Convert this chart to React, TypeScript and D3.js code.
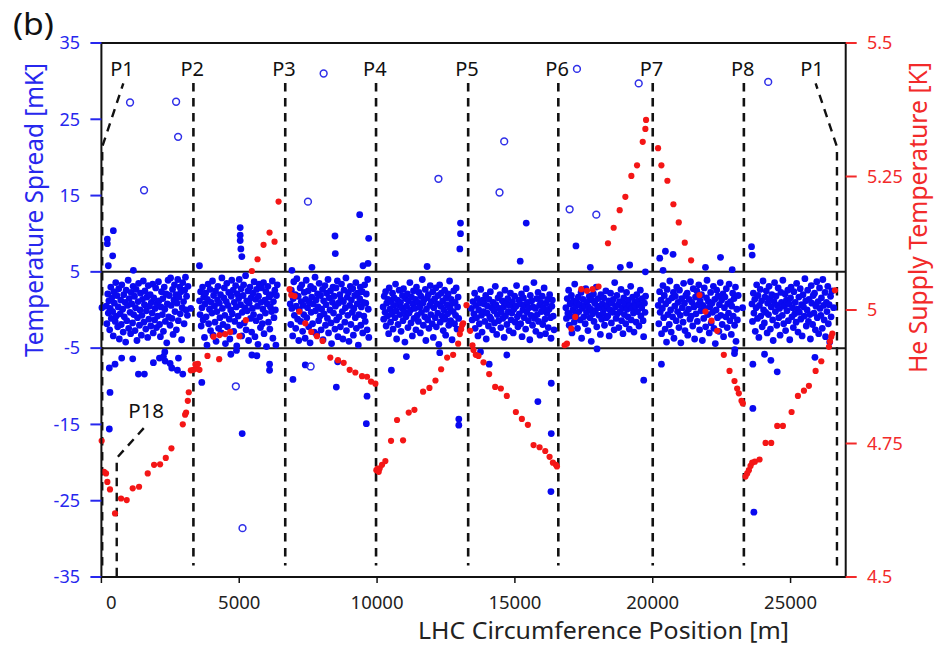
import React from "react";
import * as d3 from "d3";

type P = [number, number];

// ---- Data (x in metres, y in mK) ----
const oct1: P[] = [[20,0.3],[180,0.5],[200,-1.8],[230,2.1],[250,-0.4],[270,1.2],[300,-2.6],[320,0.2],[340,3.0],[360,-1.1],[380,1.6],[410,-0.2],[430,-3.4],[450,2.4],[470,0.9],[500,-1.5],[520,3.6],[540,-0.8],[560,1.9],[590,-2.2],[610,0.4],[630,2.8],[650,-3.8],[680,-0.5],[700,1.3],[720,-1.9],[740,3.3],[770,0.1],[790,-2.9],[810,2.0],[830,-0.9],[860,1.0],[880,-4.2],[900,2.6],[920,-1.4],[950,0.6],[970,3.9],[990,-2.4],[1010,1.5],[1040,-0.3],[1060,-3.1],[1080,2.3],[1100,0.8],[1130,-1.7],[1150,3.1],[1170,-0.6],[1200,1.8],[1220,-2.7],[1240,0.3],[1260,2.7],[1290,-4.0],[1310,-1.0],[1330,1.1],[1350,3.5],[1380,-2.0],[1400,0.0],[1420,2.2],[1450,-3.3],[1470,-0.7],[1490,1.4],[1520,3.8],[1540,-1.6],[1560,0.7],[1580,2.5],[1610,-2.5],[1630,-0.1],[1650,1.7],[1680,-3.6],[1700,3.2],[1720,-1.2],[1740,0.5],[1770,2.0],[1790,-2.1],[1810,1.0],[1840,-0.4],[1860,3.4],[1880,-3.0],[1900,1.6],[1930,-1.3],[1950,0.2],[1970,2.9],[2000,-2.3],[2020,0.9],[2040,-0.8],[2070,3.7],[2090,1.2],[2110,-1.9],[2140,-3.5],[2160,0.4],[2180,2.4],[2210,-0.6],[2230,1.5],[2250,-2.8],[2280,3.0],[2300,0.1],[2320,-1.5],[2350,2.1],[2370,-4.3],[2390,0.8],[2420,3.9],[2440,-0.9],[2460,1.9],[2490,-2.0],[2510,4.2],[2530,0.6],[2560,-1.1],[2580,2.7],[2600,-3.2],[2630,1.3],[2650,3.3],[2670,-0.2],[2700,2.0],[2720,-2.6],[2740,0.9],[2770,4.0],[2790,-1.4],[2810,1.7],[2840,3.0],[2860,-0.5],[2880,2.4],[2910,-3.9],[2930,0.3],[2950,3.6],[2980,1.1],[3000,-1.8],[3020,2.6],[3050,4.3],[3070,0.0],[3090,1.8],[3120,-0.7],[3140,3.1],[3240,0.2]];
const oct2: P[] = [[3560,1.2],[3580,-0.6],[3600,2.4],[3620,-2.1],[3650,0.3],[3670,3.0],[3690,-1.3],[3710,1.7],[3740,-3.6],[3760,0.8],[3780,2.2],[3800,-0.9],[3830,-4.6],[3850,1.4],[3870,3.4],[3890,-1.8],[3920,0.1],[3940,2.7],[3960,-2.7],[3980,1.0],[4010,-0.4],[4030,3.8],[4050,-3.3],[4070,1.9],[4100,0.5],[4120,-1.6],[4140,2.5],[4160,-4.1],[4190,-0.2],[4210,1.3],[4230,3.1],[4250,-2.4],[4280,0.9],[4300,-1.0],[4320,2.0],[4350,-3.0],[4370,4.2],[4390,0.2],[4410,-1.9],[4440,1.6],[4460,2.9],[4480,-0.7],[4500,-4.4],[4530,1.1],[4550,3.5],[4570,-2.2],[4590,0.6],[4620,2.3],[4640,-1.2],[4660,-3.8],[4690,0.0],[4710,1.8],[4730,3.9],[4750,-0.5],[4780,2.6],[4800,-2.8],[4820,1.0],[4840,-1.5],[4870,3.2],[4890,0.4],[4910,-4.7],[4930,2.1],[4960,-0.8],[4980,1.5],[5000,4.0],[5020,-2.0],[5050,0.7],[5070,2.8],[5090,-3.4],[5110,-0.3],[5140,1.9],[5160,3.3],[5180,-1.7],[5200,0.3],[5230,4.5],[5250,-2.6],[5270,1.2],[5290,-0.1],[5320,2.5],[5340,-4.0],[5360,0.9],[5390,3.0],[5410,-1.1],[5430,1.6],[5450,-2.9],[5480,0.2],[5500,2.2],[5520,-0.6],[5540,3.7],[5570,-3.5],[5590,1.4],[5610,-1.4],[5630,2.7],[5660,0.5],[5680,-4.5],[5700,1.8],[5720,3.4],[5750,-0.9],[5770,-2.3],[5790,1.0],[5810,2.9],[5840,-1.8],[5860,0.1],[5880,3.6],[5900,-3.1],[5930,1.3],[5950,-0.4],[5970,2.4],[5990,-4.8],[6020,0.8],[6040,3.1],[6060,-1.6],[6080,1.7],[6110,-2.5],[6130,0.4],[6150,2.0],[6170,-0.2],[6200,3.8],[6220,-3.7],[6240,1.1],[6260,-1.0],[6290,2.6],[6310,0.0],[6330,-4.6],[6350,1.9],[6380,3.3]];
const oct3: P[] = [[6850,0.8],[6870,-1.9],[6890,2.6],[6910,0.2],[6940,-3.4],[6960,1.5],[6980,3.7],[7000,-0.7],[7030,2.0],[7050,-2.4],[7070,0.5],[7090,4.1],[7120,-1.2],[7140,1.8],[7160,-4.0],[7180,0.0],[7210,2.9],[7230,-1.5],[7250,1.1],[7270,3.3],[7300,-2.8],[7320,0.6],[7340,-0.6],[7360,2.3],[7390,-3.7],[7410,1.4],[7430,3.9],[7450,-1.0],[7480,0.3],[7500,2.5],[7520,-2.2],[7540,1.0],[7570,-4.3],[7590,3.1],[7610,-0.3],[7630,1.7],[7660,-1.8],[7680,0.8],[7700,2.8],[7720,-2.9],[7750,4.3],[7770,-0.1],[7790,1.3],[7810,-3.2],[7840,2.1],[7860,0.4],[7880,-1.4],[7900,3.5],[7930,-0.8],[7950,1.9],[7970,-2.6],[7990,0.1],[8020,2.7],[8040,-3.9],[8060,1.2],[8080,-0.5],[8110,3.2],[8130,-2.0],[8150,0.7],[8170,2.2],[8200,-1.1],[8220,4.0],[8240,-3.0],[8260,1.6],[8290,0.0],[8310,2.5],[8330,-1.7],[8350,-4.4],[8380,1.0],[8400,3.0],[8420,-0.4],[8440,1.8],[8470,-2.5],[8490,0.5],[8510,2.9],[8530,-1.3],[8560,3.8],[8580,-3.5],[8600,0.9],[8620,-0.9],[8650,2.0],[8670,-2.2],[8690,1.4],[8710,3.4],[8740,-0.2],[8760,-3.8],[8780,1.1],[8800,2.6],[8830,-1.6],[8850,0.3],[8870,4.2],[8890,-2.7],[8920,1.7],[8940,-0.7],[8960,2.3],[8980,-4.1],[9010,0.6],[9030,3.1],[9050,-1.9],[9070,1.3],[9100,-0.3],[9120,2.8],[9140,-3.3],[9160,0.2],[9190,1.9],[9210,-1.0],[9230,3.6],[9250,-2.4],[9280,0.8],[9300,2.2],[9320,-4.6],[9340,-0.6],[9370,1.5],[9390,3.0],[9410,-2.0],[9430,0.4],[9460,2.4],[9480,-3.0],[9500,1.0],[9520,-0.8],[9550,3.3],[9570,-1.5],[9590,0.9],[9610,2.1],[9640,-2.6],[9660,4.0],[9680,0.1],[9700,-3.6]];
const oct4: P[] = [[10220,0.4],[10240,-1.2],[10260,1.8],[10290,-0.3],[10310,2.4],[10330,-2.1],[10350,0.9],[10380,-0.8],[10400,1.4],[10420,-3.1],[10440,2.9],[10470,0.1],[10490,-1.6],[10510,1.1],[10530,-0.5],[10560,2.2],[10580,-2.5],[10600,0.6],[10620,1.6],[10650,-1.0],[10670,3.4],[10690,-0.1],[10710,-3.8],[10740,1.3],[10760,-1.9],[10780,0.7],[10800,2.6],[10830,-0.6],[10850,1.0],[10870,-2.8],[10890,0.3],[10920,1.9],[10940,-1.4],[10960,2.8],[10980,-0.2],[11010,-4.2],[11030,1.5],[11050,-0.9],[11070,0.5],[11100,2.1],[11120,-2.3],[11140,1.2],[11160,-0.4],[11190,3.6],[11210,0.0],[11230,-1.7],[11250,1.7],[11280,-3.4],[11300,0.8],[11320,2.5],[11340,-1.1],[11370,0.2],[11390,1.4],[11410,-2.6],[11430,3.0],[11460,-0.7],[11480,1.0],[11500,-1.5],[11520,2.3],[11550,0.4],[11570,-3.0],[11590,1.8],[11610,-0.3],[11640,4.0],[11660,0.9],[11680,-2.0],[11700,1.3],[11730,-0.9],[11750,2.7],[11770,-4.0],[11790,0.1],[11820,1.6],[11840,-1.3],[11860,2.0],[11880,-2.4],[11910,0.6],[11930,3.2],[11950,-0.6],[11970,1.1],[12000,-1.8],[12020,2.4],[12040,-3.6],[12060,0.3],[12090,1.5],[12110,-1.0],[12130,2.9],[12150,-2.2],[12180,0.8],[12200,-0.4],[12220,1.9],[12240,-4.5],[12270,3.3],[12290,-1.6],[12310,0.5],[12330,2.2],[12360,-0.8],[12380,1.2],[12400,-2.7],[12420,0.0],[12450,2.6],[12470,-1.2],[12490,-3.3],[12510,1.6],[12540,0.7],[12560,-0.5],[12580,2.1],[12600,-2.0],[12630,3.8],[12650,0.2],[12670,-1.4],[12690,1.4],[12720,-3.9],[12740,0.9],[12760,-0.2],[12780,2.5],[12810,-1.8],[12830,1.0],[12850,-0.7],[12870,2.9],[12900,-2.5],[12920,0.4],[12940,1.7],[12960,-1.1]];
const oct5: P[] = [[13420,0.2],[13450,-1.3],[13480,1.1],[13510,-0.5],[13540,2.2],[13560,-2.4],[13590,0.6],[13610,-1.0],[13640,1.5],[13660,-3.4],[13690,0.0],[13710,-1.8],[13740,0.9],[13760,2.7],[13790,-0.7],[13810,-2.9],[13840,1.3],[13860,-0.2],[13890,0.8],[13910,-1.5],[13940,1.9],[13960,-3.8],[13990,-0.4],[14010,0.5],[14040,-2.1],[14060,1.4],[14090,-0.9],[14110,2.4],[14140,-1.2],[14160,0.3],[14190,-2.6],[14210,1.0],[14240,-0.1],[14260,-1.7],[14290,3.1],[14310,0.7],[14340,-3.2],[14360,-0.6],[14390,1.6],[14410,-1.4],[14440,0.2],[14460,2.0],[14490,-2.3],[14510,-0.3],[14540,1.2],[14560,-1.1],[14590,0.4],[14610,-3.6],[14640,2.6],[14660,-0.8],[14690,0.9],[14710,-1.9],[14740,1.5],[14760,-0.2],[14790,-2.7],[14810,0.6],[14840,2.2],[14860,-1.3],[14890,-0.4],[14910,1.1],[14940,-3.0],[14960,0.1],[14990,1.8],[15010,-1.6],[15040,0.5],[15060,3.2],[15090,-0.9],[15110,-2.2],[15140,1.3],[15160,-0.5],[15190,0.8],[15210,-1.8],[15240,2.1],[15260,-3.5],[15290,0.0],[15310,1.6],[15340,-1.0],[15360,0.7],[15390,-2.5],[15410,2.8],[15440,-0.3],[15460,1.0],[15490,-1.4],[15510,0.3],[15540,-3.9],[15560,1.9],[15590,-0.7],[15610,1.2],[15640,-2.0],[15660,0.4],[15690,3.6],[15710,-1.1],[15740,0.2],[15760,-2.8],[15790,1.5],[15810,-0.6],[15840,2.3],[15860,-1.5],[15890,0.6],[15910,-3.3],[15940,1.0],[15960,-0.2],[15990,1.8],[16010,-1.9],[16040,0.3],[16060,2.9],[16090,-1.2],[16110,-3.1],[16140,0.9],[16160,-0.4],[16190,1.4],[16210,-2.3],[16240,0.1],[16260,2.0],[16290,-1.0],[16310,-3.7],[16340,0.5],[16360,1.3],[16390,-0.8],[16420,-2.6]];
const oct6: P[] = [[16850,0.3],[16870,-1.1],[16900,1.5],[16920,-0.4],[16950,2.6],[16970,-2.0],[17000,0.8],[17020,-0.8],[17050,1.9],[17070,-3.0],[17100,0.0],[17120,1.2],[17150,-1.6],[17170,3.4],[17200,0.5],[17220,-0.6],[17250,1.0],[17270,-2.4],[17300,1.7],[17320,-0.2],[17350,0.7],[17370,-1.3],[17400,2.3],[17420,-3.7],[17450,0.2],[17470,1.4],[17500,-0.9],[17520,0.6],[17550,-1.8],[17570,2.8],[17600,-0.3],[17620,1.1],[17650,-2.7],[17670,0.4],[17700,1.8],[17720,-1.0],[17750,0.1],[17770,-4.1],[17800,1.3],[17820,-0.5],[17850,2.1],[17870,-1.5],[17900,0.9],[17920,-0.1],[17950,3.0],[17970,-2.2],[18000,0.5],[18020,1.5],[18050,-0.7],[18070,0.3],[18100,-3.2],[18120,2.0],[18150,-1.2],[18170,0.8],[18200,-0.4],[18220,1.6],[18250,-2.0],[18270,0.2],[18300,2.5],[18320,-1.0],[18350,0.6],[18370,-0.8],[18400,1.2],[18420,-3.4],[18450,0.0],[18470,2.2],[18500,-1.7],[18520,0.9],[18550,-0.3],[18570,1.4],[18600,-2.6],[18620,3.6],[18650,0.4],[18670,-1.1],[18700,1.9],[18720,-0.5],[18750,0.7],[18770,-2.3],[18800,1.1],[18820,-0.2],[18850,2.7],[18870,-1.4],[18900,0.3],[18920,-3.1],[18950,1.6],[18970,-0.6],[19000,0.8],[19020,-1.8],[19050,2.3],[19070,0.1],[19100,-0.9],[19120,1.3],[19150,-2.5],[19170,0.6],[19200,3.1],[19220,-1.3],[19250,0.2],[19270,1.7],[19300,-0.4],[19320,-2.9],[19350,1.0],[19370,0.5],[19400,-1.6],[19420,2.0],[19450,-0.2],[19470,1.2],[19500,-2.1],[19520,0.7],[19550,2.6],[19570,-0.8],[19600,0.3],[19620,1.5],[19650,-1.4],[19670,-3.5],[19700,0.9],[19720,-0.3],[19740,1.8]];
const oct7: P[] = [[20200,0.6],[20220,-1.8],[20250,2.4],[20270,-0.3],[20300,1.3],[20320,-3.1],[20350,0.2],[20370,3.2],[20400,-1.0],[20420,1.9],[20450,-2.5],[20470,0.8],[20500,-4.2],[20520,2.7],[20550,-0.6],[20570,1.2],[20600,-1.9],[20620,3.8],[20650,0.0],[20670,-2.9],[20700,1.6],[20720,-0.9],[20750,2.3],[20770,-3.7],[20800,0.5],[20820,1.8],[20850,-1.4],[20870,3.0],[20900,-0.2],[20920,1.0],[20950,-2.3],[20970,2.6],[21000,-0.7],[21020,-4.3],[21050,1.5],[21070,0.3],[21100,-1.6],[21120,3.5],[21150,0.9],[21170,-2.7],[21200,1.9],[21220,-0.4],[21250,2.2],[21270,-3.3],[21300,0.1],[21320,1.4],[21350,-1.2],[21370,3.7],[21400,-0.8],[21420,1.0],[21450,-2.1],[21470,2.8],[21500,0.4],[21520,-3.8],[21550,1.7],[21570,-0.5],[21600,2.5],[21620,-1.5],[21650,0.7],[21670,3.3],[21700,-2.6],[21720,1.2],[21750,-0.1],[21770,2.0],[21800,-4.0],[21820,0.6],[21850,-1.1],[21870,2.9],[21900,0.2],[21920,-2.2],[21950,1.6],[21970,3.9],[22000,-0.6],[22020,1.1],[22050,-3.0],[22070,0.4],[22100,2.3],[22120,-1.7],[22150,0.9],[22170,-0.3],[22200,3.1],[22220,-2.4],[22250,1.4],[22270,-4.4],[22300,0.0],[22320,2.6],[22350,-1.0],[22370,1.8],[22400,-2.8],[22420,0.7],[22450,3.6],[22470,-0.7],[22500,1.3],[22520,-1.9],[22550,2.1],[22570,-3.5],[22600,0.3],[22620,1.7],[22650,-0.9],[22670,2.8],[22700,-2.3],[22720,0.8],[22750,-0.4],[22770,3.4],[22800,-1.4],[22820,1.1],[22850,-3.2],[22870,0.5],[22900,2.2],[22920,-0.8],[22950,1.5],[22970,-2.0],[23000,3.0],[23020,-4.1],[23050,0.1],[23070,-1.3],[23100,1.9],[23260,0.3]];
const oct8: P[] = [[23600,0.8],[23620,-1.5],[23650,2.2],[23670,-0.4],[23700,1.4],[23720,-2.8],[23750,0.3],[23770,3.3],[23800,-1.1],[23820,1.9],[23850,-3.6],[23870,0.6],[23900,2.7],[23920,-0.8],[23950,1.2],[23970,-2.2],[24000,3.8],[24020,0.0],[24050,-1.7],[24070,1.7],[24100,-0.3],[24120,2.5],[24150,-3.0],[24170,0.9],[24200,-0.6],[24220,3.1],[24250,1.5],[24270,-2.5],[24300,0.4],[24320,2.0],[24350,-1.3],[24370,-4.0],[24400,1.1],[24420,3.6],[24450,-0.2],[24470,1.8],[24500,-2.0],[24520,0.6],[24550,2.9],[24570,-1.0],[24600,0.2],[24620,-3.3],[24650,2.3],[24670,1.0],[24700,-0.7],[24720,3.9],[24750,-1.8],[24770,0.5],[24800,2.1],[24820,-2.7],[24850,1.3],[24870,-0.1],[24900,2.6],[24920,-1.4],[24950,0.8],[24970,-3.9],[25000,1.6],[25020,3.0],[25050,-0.9],[25070,0.3],[25100,-2.3],[25120,2.4],[25150,-0.5],[25170,1.0],[25200,-1.6],[25220,3.5],[25250,0.1],[25270,-2.9],[25300,1.7],[25320,-0.3],[25350,2.8],[25370,-1.2],[25400,0.7],[25420,-3.4],[25450,2.0],[25470,0.4],[25500,-0.8],[25520,4.1],[25550,1.2],[25570,-2.1],[25600,0.0],[25620,2.6],[25650,-1.5],[25670,1.4],[25700,-0.6],[25720,-3.8],[25750,3.2],[25770,0.9],[25800,-1.9],[25820,1.9],[25850,-0.4],[25870,2.2],[25900,-2.6],[25920,0.5],[25950,3.7],[25970,-1.0],[26000,1.1],[26020,-3.1],[26050,2.9],[26070,0.2],[26100,-0.7],[26120,1.6],[26150,-2.4],[26170,4.0],[26200,0.6],[26220,-1.3],[26250,2.3],[26270,-3.5],[26300,1.0],[26320,-0.2],[26350,3.1],[26370,-1.8],[26400,0.7],[26420,-4.2],[26450,1.8],[26470,-0.9],[26500,2.5],[26560,0.3]];
const blueOutliers: P[] = [[433,10.4],[216,9.3],[216,8.7],[409,7.1],[252,5.8],[1160,5.2],[288,-7.6],[494,-7.1],[736,-6.3],[1136,-6.4],[1342,-8.4],[1560,-8.4],[1886,-6.9],[2105,-6.3],[2250,-6.1],[2310,-6.7],[2492,-7.0],[2552,-7.6],[2758,-7.9],[2794,-6.3],[2952,-8.4],[312,-10.8],[288,-15.6],[2300,-5.5],[5034,10.8],[5034,9.8],[5034,9.1],[5059,8.0],[5095,7.0],[3557,5.8],[3642,-9.5],[4695,-5.8],[5458,-5.9],[5640,-6.0],[6100,-7.1],[6100,-7.9],[5107,-16.2],[4900,-5.3],[9369,12.5],[8473,9.7],[8485,7.4],[9696,9.4],[9672,6.1],[9490,5.8],[7638,5.6],[6911,5.2],[6948,-9.1],[7396,-7.2],[8522,-10.1],[9636,-11.3],[9611,-14.9],[8570,-6.8],[13026,11.4],[13026,10.0],[13002,8.0],[11815,5.7],[10519,-7.9],[12275,-5.6],[12965,-14.3],[12965,-15.1],[11064,-6.1],[13752,-5.5],[15411,11.4],[15193,6.4],[14708,-5.9],[14067,-7.1],[15834,-12.0],[16319,-9.6],[16319,-16.2],[16307,-23.8],[17215,8.4],[17736,5.6],[18825,5.6],[19164,5.9],[17978,-5.1],[19673,-9.2],[19733,5.0],[20254,6.8],[20460,7.7],[20738,7.3],[20375,5.2],[21913,5.6],[22458,6.9],[22882,5.3],[20315,-7.1],[22978,-5.2],[22966,-5.7],[23584,8.3],[23608,7.2],[23632,-7.1],[23632,-12.9],[23669,-26.5],[24056,-5.8],[24286,-6.6],[24516,-8.1],[25884,-6.2]];
const hollow: P[] = [[1039,27.2],[2710,27.3],[2782,22.7],[1547,15.7],[8062,31.0],[7493,14.2],[12226,17.2],[7590,-7.4],[4877,-10.0],[5119,-28.6],[17251,31.6],[19491,29.7],[24189,29.9],[14612,22.1],[14442,15.4],[16985,13.2],[17953,12.5]];
// He supply temperature (K)
const heSupply: P[] = [[10,4.755],[94,4.697],[167,4.694],[216,4.678],[312,4.664],[494,4.619],[712,4.647],[918,4.644],[1136,4.666],[1366,4.669],[1681,4.694],[1911,4.71],[2129,4.711],[2335,4.723],[2540,4.741],[2952,4.786],[3037,4.804],[3073,4.808],[3134,4.83],[3170,4.846],[3244,4.887],[3340,4.888],[3460,4.89],[3557,4.888],[3410,4.898],[3500,4.899],[3848,4.914],[4272,4.908],[4066,4.95],[4284,4.953],[4489,4.955],[4671,4.959],[5010,4.951],[5240,4.981],[5458,5.073],[5664,5.095],[5882,5.122],[6100,5.145],[6281,5.128],[6427,5.203],[6826,5.039],[6887,5.028],[7008,5.026],[7178,4.997],[7396,4.975],[7614,4.959],[7819,4.951],[8025,4.942],[8304,4.911],[8582,4.906],[8788,4.901],[9006,4.888],[9212,4.883],[9454,4.876],[9636,4.875],[9781,4.866],[9939,4.862],[9975,4.7],[10023,4.703],[10095,4.703],[10060,4.697],[10180,4.71],[10301,4.717],[10507,4.755],[10725,4.794],[10943,4.756],[11149,4.808],[11355,4.813],[11670,4.847],[11900,4.854],[12118,4.868],[12324,4.889],[12542,4.911],[12759,4.916],[12941,4.937],[13002,4.955],[13050,4.964],[13087,4.972],[13123,4.975],[13244,5.009],[13377,4.961],[13461,4.934],[13498,4.925],[13582,4.916],[13679,4.914],[13861,4.902],[14067,4.88],[14285,4.856],[14490,4.853],[14708,4.839],[15035,4.809],[15253,4.796],[15471,4.785],[15677,4.747],[15895,4.743],[16101,4.736],[16258,4.725],[16379,4.714],[16488,4.71],[16525,4.707],[16803,4.934],[16888,4.937],[17045,4.965],[17190,4.987],[17408,5.039],[17614,5.036],[17820,5.039],[18034,5.044],[18377,5.125],[18583,5.154],[18801,5.187],[19007,5.212],[19225,5.251],[19431,5.271],[19637,5.315],[19733,5.339],[19758,5.356],[20193,5.303],[20314,5.271],[20532,5.242],[20750,5.198],[20944,5.164],[21162,5.126],[21392,5.093],[21695,5.028],[21913,4.997],[22131,4.98],[22337,4.961],[22579,4.916],[22785,4.886],[22966,4.867],[23063,4.853],[23123,4.844],[23220,4.83],[23268,4.825],[23365,4.688],[23426,4.694],[23487,4.7],[23547,4.708],[23608,4.714],[23705,4.716],[23874,4.72],[24092,4.751],[24298,4.751],[24516,4.783],[24722,4.783],[25037,4.809],[25267,4.839],[25485,4.849],[25666,4.858],[25909,4.886],[26115,4.904],[26393,4.931],[26430,4.941],[26478,4.95],[26515,4.956],[26611,5.037]];

const pointLabels = ["P2", "P3", "P4", "P5", "P6", "P7", "P8"];
const pointX = [3338, 6669, 9963, 13305, 16575, 20000, 23306];
const leftTicks = [-35, -25, -15, -5, 5, 15, 25, 35];
const rightTicks = [4.5, 4.75, 5, 5.25, 5.5];
const xTicks = [0, 5000, 10000, 15000, 20000, 25000];
const p1Left: P[] = [[30, -33.5], [30, 21.4], [795, 29.7]];
const p1Right: P[] = [[26683, -33.5], [26683, 21.4], [25910, 29.7]];
const p18: P[] = [[556, -34.9], [556, -19.4], [1584, -15.3]];

const FONT = "'Noto Sans', 'Open Sans', sans-serif";
const BLUE = "#0909f0";
const BLUE_T = "#2727ee";
const RED = "#f41616";
const RED_T = "#f22a2a";

export default function App() {
  const x = d3.scaleLinear().domain([0, 27000]).range([101.4, 845.7]);
  const yL = d3.scaleLinear().domain([-35, 35]).range([577, 43]);
  const yR = d3.scaleLinear().domain([4.5, 5.5]).range([577, 43]);
  const line = d3.line<P>().x((d) => x(d[0])).y((d) => yL(d[1]));
  const blue = [...oct1, ...oct2, ...oct3, ...oct4, ...oct5, ...oct6, ...oct7, ...oct8, ...blueOutliers];
  const dash = "8.5,6.5";
  const labelY = yL(30.67);
  return (
    <svg width={937} height={647} style={{ position: "absolute", left: 0, top: 0, background: "#fff" }} fontFamily={FONT}>
      <rect width={937} height={647} fill="#fff" />
      {/* dashed IP lines */}
      {pointX.map((v, i) => (
        <line key={"d" + i} x1={x(v)} x2={x(v)} y1={yL(29.75)} y2={yL(-33.5)} stroke="#111" strokeWidth={2.6} strokeDasharray={dash} />
      ))}
      <path d={line(p1Left) || ""} fill="none" stroke="#111" strokeWidth={2.4} strokeDasharray={dash} />
      <path d={line(p1Right) || ""} fill="none" stroke="#111" strokeWidth={2.4} strokeDasharray={dash} />
      <path d={line(p18) || ""} fill="none" stroke="#111" strokeWidth={2.4} strokeDasharray={dash} />
      {/* band lines */}
      {[5, -5].map((v) => (
        <line key={"b" + v} x1={x(0)} x2={x(27000)} y1={yL(v)} y2={yL(v)} stroke="#1a1a1a" strokeWidth={2} />
      ))}
      {/* blue points */}
      {blue.map((d, i) => (
        <circle key={"bp" + i} cx={x(d[0])} cy={yL(d[1])} r={3.4} fill={BLUE} />
      ))}
      {hollow.map((d, i) => (
        <circle key={"h" + i} cx={x(d[0])} cy={yL(d[1])} r={3.4} fill="none" stroke="#2f2fe8" strokeWidth={1.5} />
      ))}
      {heSupply.map((d, i) => (
        <circle key={"r" + i} cx={x(d[0])} cy={yR(d[1])} r={3.1} fill={RED} />
      ))}
      {/* frame */}
      <rect x={x(0)} y={43} width={x(27000) - x(0)} height={534} fill="none" stroke="#111" strokeWidth={2} />
      {/* left axis ticks */}
      {leftTicks.map((v) => (
        <g key={"l" + v}>
          <line x1={x(0) - 11} x2={x(0)} y1={yL(v)} y2={yL(v)} stroke={BLUE_T} strokeWidth={2} />
          <text x={80} y={yL(v)} dy="0.35em" textAnchor="end" fontSize={18} fill={BLUE_T}>{v}</text>
        </g>
      ))}
      {rightTicks.map((v) => (
        <g key={"r" + v}>
          <line x1={x(27000)} x2={x(27000) + 11} y1={yR(v)} y2={yR(v)} stroke={RED_T} strokeWidth={2} />
          <text x={867} y={yR(v)} dy="0.35em" textAnchor="start" fontSize={18} fill={RED_T}>{String(v)}</text>
        </g>
      ))}
      {xTicks.map((v) => (
        <g key={"x" + v}>
          <line x1={x(v)} x2={x(v)} y1={577} y2={583} stroke="#111" strokeWidth={1.5} />
          <text x={x(v) + (v === 0 ? 10 : 0)} y={609} textAnchor="middle" fontSize={18.5} fill="#222">{v}</text>
        </g>
      ))}
      {/* IP labels */}
      {pointLabels.map((t, i) => (
        <text key={t} x={x(pointX[i]) - 1.2} y={labelY} textAnchor="middle" fontSize={20} fill="#111">{t}</text>
      ))}
      <text x={x(748)} y={labelY} textAnchor="middle" fontSize={20} fill="#111">P1</text>
      <text x={x(25775)} y={labelY} textAnchor="middle" fontSize={20} fill="#111">P1</text>
      <text x={x(1624)} y={yL(-14.15)} textAnchor="middle" fontSize={20.5} fill="#111">P18</text>
      {/* titles */}
      <text x={13} y={35} fontSize={31} fill="#111" textLength={41} lengthAdjust="spacingAndGlyphs">(b)</text>
      <text transform="translate(43,210) rotate(-90)" textAnchor="middle" fontSize={24.5} fill={BLUE_T} textLength={294} lengthAdjust="spacingAndGlyphs">Temperature Spread [mK]</text>
      <text transform="translate(927,217.5) rotate(-90)" textAnchor="middle" fontSize={24.5} fill={RED_T} textLength={311} lengthAdjust="spacingAndGlyphs">He Supply Temperature [K]</text>
      <text x={603.5} y={639} textAnchor="middle" fontSize={24} fill="#222" textLength={371} lengthAdjust="spacingAndGlyphs">LHC Circumference Position [m]</text>
    </svg>
  );
}
